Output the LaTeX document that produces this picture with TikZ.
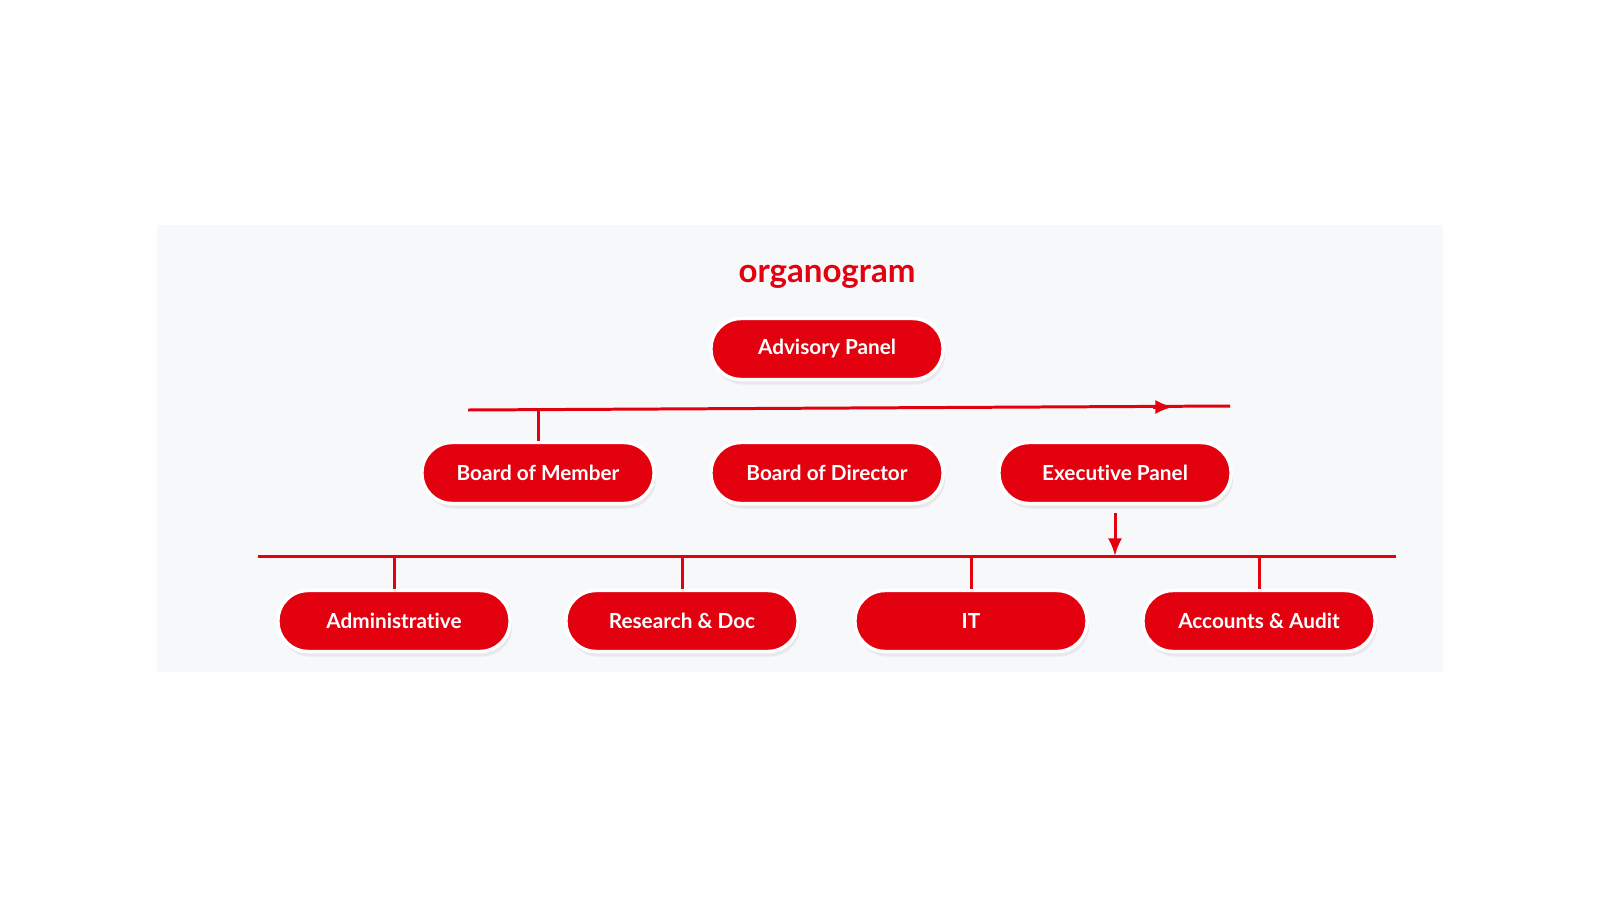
\documentclass[tikz,border=0pt]{standalone}
\usepackage{fontspec}
\setmainfont{Lato}[Ligatures=NoCommon]
\usepackage{xcolor}
\usetikzlibrary{arrows.meta, positioning, calc, shadows}
\definecolor{orgred}{HTML}{E3000F}
\definecolor{panelbg}{HTML}{F7F8FA}

\begin{document}
\begin{tikzpicture}[x=0.01cm, y=-0.01cm,
    unit/.style={draw=white, line width=1pt, fill=orgred, rounded corners=0.3cm,
      minimum width=2.32cm, minimum height=0.61cm, text=white,
      font=\fontsize{5.9pt}{6pt}\selectfont\bfseries,
      drop shadow={opacity=0.12, shadow xshift=0.02cm, shadow yshift=-0.05cm}},
    link/.style={draw=orgred, line width=0.85pt}]
  \useasboundingbox (0,0) rectangle (1600,900);
  \fill[panelbg] (157,225) rectangle (1443,672);
  \node[text=orgred, font=\fontsize{9.4pt}{10pt}\selectfont\bfseries] (title) at (827,277) {organogram};

  % top
  \node[unit] (adv) at (827,349) {Advisory Panel};

  % second row
  \node[unit] (bom) at (538,473) {Board of Member};
  \node[unit] (bod) at (827,473) {Board of Director};
  \node[unit] (exe) at (1115,473) {Executive Panel};

  % third row
  \node[unit] (adm) at (394,621) {Administrative};
  \node[unit] (res) at (682,621) {Research \& Doc};
  \node[unit] (it)  at (971,621) {IT};
  \node[unit] (acc) at (1259,621) {Accounts \& Audit};

  % first bus
  \coordinate (busA) at (468,410);
  \coordinate (busB) at (1230,406);
  \coordinate (busM) at (1173,407);
  \draw[link] (busA) -- (busB);
  \draw[link, -{Latex[length=5pt, width=4pt]}] ($(busM)+(-20,0)$) -- (busM);
  \draw[link] (bom.north |- 0,409.5) -- (bom.north);

  % second bus
  \coordinate (busC) at (258,556);
  \coordinate (busD) at (1396,556);
  \draw[link] (busC) -- (busD);
  \draw[link, -{Latex[length=5pt, width=4pt]}] ($(exe.south)+(0,8)$) -- (exe.south |- busC);
  \foreach \n in {adm, res, it, acc}
    \draw[link] (\n.north |- busC) -- (\n.north);
\end{tikzpicture}
\end{document}
